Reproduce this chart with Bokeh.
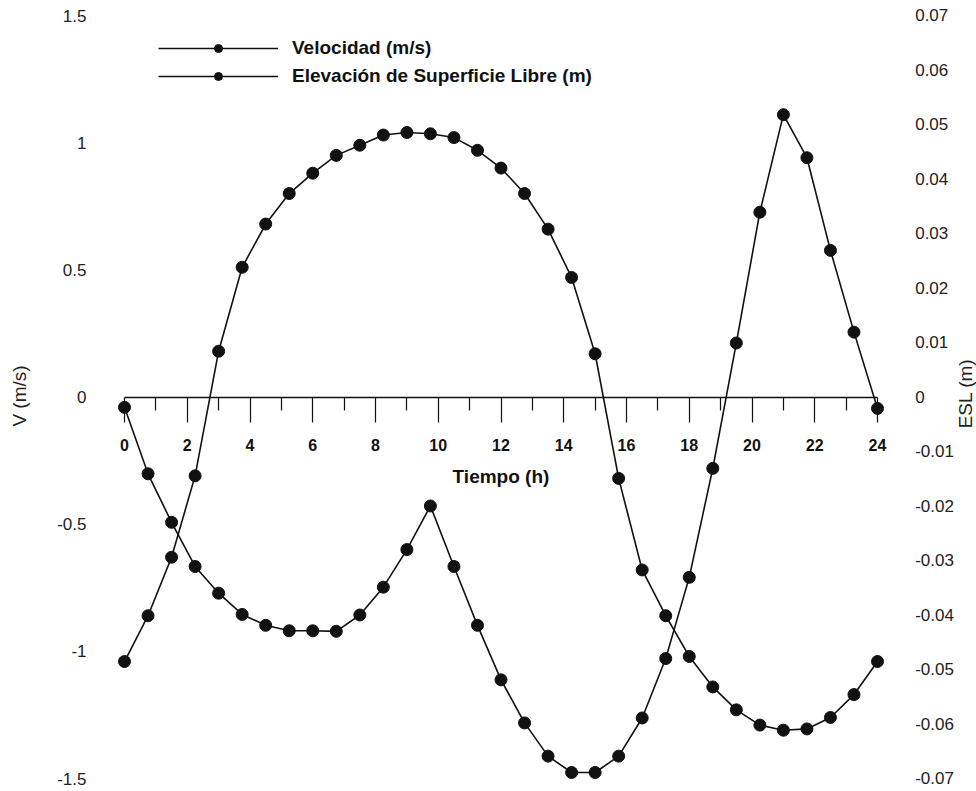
from bokeh.plotting import figure
from bokeh.models import Range1d, LinearAxis, FixedTicker, Legend, LegendItem, Label
from bokeh.embed import file_html
from bokeh.resources import INLINE
import math

# ---- data ----
tiempo = [0, 0.75, 1.5, 2.25, 3, 3.75, 4.5, 5.25, 6, 6.75, 7.5, 8.25, 9, 9.75,
          10.5, 11.25, 12, 12.75, 13.5, 14.25, 15, 15.75, 16.5, 17.25, 18,
          18.75, 19.5, 20.25, 21, 21.75, 22.5, 23.25, 24]
velocidad = [-1.04, -0.86, -0.63, -0.31, 0.18, 0.51, 0.68, 0.80, 0.88, 0.95,
             0.99, 1.03, 1.04, 1.035, 1.02, 0.97, 0.90, 0.80, 0.66, 0.47, 0.17,
             -0.32, -0.68, -0.86, -1.02, -1.14, -1.23, -1.29, -1.31, -1.305,
             -1.26, -1.17, -1.04]
esl = [-0.0019, -0.0141, -0.0230, -0.0311, -0.0360, -0.0399, -0.0419, -0.0429,
       -0.0429, -0.0430, -0.0400, -0.0349, -0.0280, -0.0200, -0.0311, -0.0419,
       -0.0519, -0.0598, -0.0659, -0.0689, -0.0689, -0.0659, -0.0589, -0.0480,
       -0.0331, -0.0131, 0.0099, 0.0339, 0.0518, 0.0439, 0.0269, 0.0119, -0.0021]

x_ticks = [0, 2, 4, 6, 8, 10, 12, 14, 16, 18, 20, 22, 24]
x_minor = [1, 3, 5, 7, 9, 11, 13, 15, 17, 19, 21, 23]
v_ticks = [-1.5, -1, -0.5, 0, 0.5, 1, 1.5]
v_labels = ["-1.5", "-1", "-0.5", "0", "0.5", "1", "1.5"]
e_ticks = [-0.07, -0.06, -0.05, -0.04, -0.03, -0.02, -0.01, 0,
           0.01, 0.02, 0.03, 0.04, 0.05, 0.06, 0.07]
e_labels = ["-0.07", "-0.06", "-0.05", "-0.04", "-0.03", "-0.02", "-0.01", "0",
            "0.01", "0.02", "0.03", "0.04", "0.05", "0.06", "0.07"]

FONT = "Liberation Sans"

# the plotting frame covers the canvas to the right, top and bottom so that the
# right axis (drawn at a fixed position) and its title are not clipped
p = figure(width=976, height=791, output_backend="svg", toolbar_location=None,
           x_range=Range1d(-0.51, 27.155), y_range=Range1d(-1.5511, 1.559),
           x_axis_location=None, y_axis_location=None,
           min_border_left=108, min_border_right=0,
           min_border_top=0, min_border_bottom=0)
p.outline_line_color = None
p.grid.visible = False
p.extra_y_ranges = {"esl": Range1d(-0.07239, 0.07275)}

# left axis
ax_l = LinearAxis(ticker=FixedTicker(ticks=v_ticks, minor_ticks=[]),
                  major_label_overrides=dict(zip(v_ticks, v_labels)),
                  axis_label="V (m/s)")
# right axis, drawn just right of the last hour
ax_r = LinearAxis(y_range_name="esl", fixed_location=24.5,
                  ticker=FixedTicker(ticks=e_ticks, minor_ticks=[]),
                  major_label_overrides=dict(zip(e_ticks, e_labels)))
for ax in (ax_l, ax_r):
    ax.axis_line_color = None
    ax.major_tick_line_color = None
    ax.minor_tick_line_color = None
    ax.major_tick_out = 0
    ax.major_tick_in = 0
    ax.major_label_text_font = FONT
    ax.major_label_text_font_size = "17px"
    ax.major_label_text_color = "#222222"
    ax.major_label_standoff = 22
ax_l.axis_label_text_font = FONT
ax_l.axis_label_text_font_size = "19px"
ax_l.axis_label_text_font_style = "normal"
ax_l.axis_label_text_color = "#222222"
ax_l.axis_label_standoff = 24
p.add_layout(ax_l, "left")
p.add_layout(ax_r, "right")

esl_title = Label(x=857, y=398, x_units="screen", y_units="screen",
                  text="ESL (m)", angle=math.pi / 2,
                  text_align="center", text_baseline="middle",
                  text_font=FONT, text_font_size="19px",
                  text_color="#222222")
p.add_layout(esl_title)

# x axis drawn at V = 0
ax_x = LinearAxis(fixed_location=0, bounds=(0, 24),
                  ticker=FixedTicker(ticks=x_ticks, minor_ticks=x_minor),
                  axis_label="Tiempo (h)")
ax_x.axis_line_color = "#111111"
ax_x.axis_line_width = 1.3
ax_x.major_tick_line_color = "#111111"
ax_x.minor_tick_line_color = "#111111"
ax_x.major_tick_line_width = 1.2
ax_x.minor_tick_line_width = 1.2
ax_x.major_tick_out = 25
ax_x.major_tick_in = 0
ax_x.minor_tick_out = 13
ax_x.minor_tick_in = 0
ax_x.major_label_standoff = 17
ax_x.major_label_text_font = FONT
ax_x.major_label_text_font_size = "16px"
ax_x.major_label_text_font_style = "bold"
ax_x.major_label_text_color = "#111111"
ax_x.axis_label_text_font = FONT
ax_x.axis_label_text_font_size = "19px"
ax_x.axis_label_text_font_style = "bold"
ax_x.axis_label_text_color = "#111111"
ax_x.axis_label_standoff = 11
p.add_layout(ax_x, "below")

# series
vl = p.line(tiempo, velocidad, line_color="#111111", line_width=1.6)
vs = p.scatter(tiempo, velocidad, size=12, marker="circle",
               fill_color="#111111", line_color="#111111")
el = p.line(tiempo, esl, y_range_name="esl", line_color="#111111", line_width=1.6)
es = p.scatter(tiempo, esl, y_range_name="esl", size=12, marker="circle",
               fill_color="#111111", line_color="#111111")

legend = Legend(items=[LegendItem(label="Velocidad (m/s)", renderers=[vl, vs]),
                       LegendItem(label="Elevación de Superficie Libre (m)", renderers=[el, es])],
                location=(50, 704), glyph_width=120, glyph_height=20,
                label_height=20, spacing=6, padding=0, margin=0,
                label_standoff=14, border_line_color=None,
                background_fill_alpha=0,
                label_text_font=FONT, label_text_font_size="19px",
                label_text_font_style="bold", label_text_color="#111111")
p.add_layout(legend)

open("out.html", "w").write(file_html(p, INLINE))
